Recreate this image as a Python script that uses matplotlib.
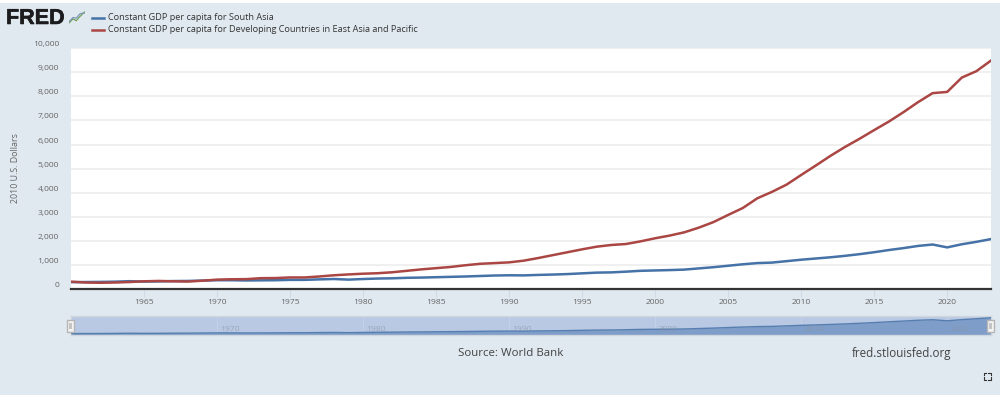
import matplotlib
matplotlib.use("Agg")
import matplotlib.pyplot as plt
import matplotlib.patheffects as pe
from matplotlib.patches import Rectangle
from matplotlib.lines import Line2D
from matplotlib.transforms import ScaledTranslation

years = list(range(1960, 2024))
south_asia = [300, 305, 310, 320, 340, 325, 330, 345, 350, 365,
              380, 380, 370, 375, 380, 395, 395, 415, 430, 405,
              430, 450, 460, 480, 490, 505, 520, 535, 555, 575,
              585, 580, 600, 615, 635, 665, 695, 705, 735, 770,
              785, 800, 820, 870, 920, 980, 1040, 1090, 1110, 1170,
              1230, 1280, 1330, 1390, 1460, 1540, 1630, 1710, 1800, 1860,
              1740, 1870, 1970, 2085]
east_asia = [320, 285, 275, 285, 305, 335, 350, 335, 325, 360,
             405, 420, 425, 465, 470, 495, 495, 535, 585, 620,
             650, 670, 710, 770, 830, 880, 930, 1000, 1060, 1090,
             1120, 1190, 1300, 1420, 1540, 1660, 1770, 1840, 1880, 1990,
             2118, 2230, 2365, 2560, 2790, 3085, 3370, 3775, 4040, 4340,
             4740, 5130, 5530, 5900, 6240, 6600, 6950, 7340, 7755, 8130,
             8180, 8775, 9040, 9480]
y_ticks = list(range(0, 11000, 1000))
x_ticks = list(range(1965, 2025, 5))
nav_ticks = [1970, 1980, 1990, 2000, 2010, 2020]
series_names = ["Constant GDP per capita for South Asia",
                "Constant GDP per capita for Developing Countries in East Asia and Pacific"]

BG = "#e1e9f0"
BLUE = "#4572a7"
RED = "#aa4643"
W, H = 1000, 395
TICK_FS = 6.1
plt.rcParams["font.family"] = ["Open Sans", "DejaVu Sans"]

fig = plt.figure(figsize=(W / 100, H / 100), dpi=100, facecolor=BG)


def px_axes(x0, y0, x1, y1, **kw):
    return fig.add_axes([x0 / W, 1 - y1 / H, (x1 - x0) / W, (y1 - y0) / H], **kw)


def ftext(x, y, s, **kw):
    return fig.text(x / W, 1 - y / H, s, **kw)


# white strip at the very top of the page
fig.add_artist(Rectangle((0, 1 - 2.5 / H), 1, 2.5 / H, transform=fig.transFigure,
                         facecolor="white", edgecolor="none"))

# main chart
ax = px_axes(71, 48, 991, 289.4, facecolor="white")
ax.set_xlim(1960, 2023)
ax.set_ylim(0, 10000)
ax.plot(years, south_asia, color=BLUE, lw=1.8, solid_joinstyle="round", zorder=3, clip_on=True)
ax.plot(years, east_asia, color=RED, lw=1.8, solid_joinstyle="round", zorder=4, clip_on=True)
ax.set_yticks(y_ticks)
ax.set_yticklabels([f"{v:,}" for v in y_ticks])
ax.set_xticks(x_ticks)
ax.grid(axis="y", color="#eeeeee", lw=1.2, zorder=1)
ax.set_axisbelow(True)
for s in ["top", "right", "left"]:
    ax.spines[s].set_visible(False)
ax.spines["bottom"].set_color("#333333")
ax.spines["bottom"].set_linewidth(1.6)
ax.spines["bottom"].set_zorder(6)
ax.tick_params(axis="y", length=0, pad=8.6, labelsize=TICK_FS, labelcolor="#666666")
ax.tick_params(axis="x", length=6, width=0.8, color="#cfdbe8", pad=0.8,
               labelsize=TICK_FS, labelcolor="#666666")
shift = ScaledTranslation(0, 4.5 / 100, fig.dpi_scale_trans)
for lab in ax.get_yticklabels():
    lab.set_transform(lab.get_transform() + shift)
ftext(15.5, 168, "2010 U.S. Dollars", rotation=90, ha="center", va="center",
      fontsize=6.4, color="#666666")

# navigator
nav = px_axes(71, 316, 991, 335, facecolor="#b9c9e3")
nav.set_xlim(1960, 2023)
nav.set_ylim(140, 2280)
nav.fill_between(years, south_asia, 140, color="#7f9dc9", lw=0, zorder=2)
nav.plot(years, south_asia, color=BLUE, lw=1.0, zorder=3, alpha=0.85)
nav.set_xticks(nav_ticks)
nav.set_xticklabels([])
nav.set_yticks([])
nav.tick_params(axis="x", direction="in", length=13.5, width=0.6, color="#c6d2e6")
for s in nav.spines.values():
    s.set_color("#d0d6de")
    s.set_linewidth(1.0)
for yr in nav_ticks:
    nav.annotate(str(yr), (yr, 0), xycoords=nav.get_xaxis_transform(),
                 xytext=(12.7 * 0.72, 5.5 * 0.72), textcoords="offset points", ha="center",
                 va="center", fontsize=TICK_FS, color="#8a93a5", alpha=0.65, zorder=4)
for hx in (70, 990):
    fig.add_artist(Rectangle(((hx - 3.5) / W, 1 - 331.5 / H), 7 / W, 12 / H,
                             transform=fig.transFigure, facecolor="#f2f2f2",
                             edgecolor="#b5b5b5", lw=1.0, zorder=8))
    fig.add_artist(Rectangle(((hx - 1.5) / W, 1 - 328.5 / H), 3 / W, 6 / H,
                             transform=fig.transFigure, facecolor="#c4c4c4",
                             edgecolor="none", zorder=9))

# legend
for yy, col, name in zip((18, 30), (BLUE, RED), series_names):
    fig.add_artist(Line2D([92 / W, 104 / W], [1 - yy / H] * 2, color=col, lw=1.8,
                          transform=fig.transFigure))
    ftext(108, yy, name, ha="left", va="center", fontsize=6.6, color="#333333")

# FRED logo
ftext(6, 18.5, "FRED", ha="left", va="center", fontsize=15.5, fontweight="bold",
      family=["Liberation Sans"], color="#1c1c1e",
      path_effects=[pe.withStroke(linewidth=0.4, foreground="#1c1c1e")])
icon = px_axes(69, 11, 85, 24, facecolor="#e8eef3")
icon.set_xlim(0, 1)
icon.set_ylim(0, 1)
icon.axis("off")
icon.plot([0.02, 0.25, 0.45, 0.7, 1.0], [0.1, 0.4, 0.25, 0.6, 0.95], color="#6fa05a", lw=0.9)
icon.plot([0.02, 0.25, 0.45, 0.7, 1.0], [0.2, 0.5, 0.45, 0.8, 0.85], color="#7d97b8", lw=0.9)

# footer
ftext(458, 353.5, "Source: World Bank", ha="left", va="center", fontsize=8.25, color="#444444")
ftext(852, 353.5, "fred.stlouisfed.org", ha="left", va="center", fontsize=8.35, color="#444444")

# full-screen icon
cx0, cx1, cy0, cy1, a = 983.5, 990.5, 372.5, 379.5, 2.4
for (xs, ys) in [([cx0, cx0, cx0 + a], [cy0 + a, cy0, cy0]),
                 ([cx1 - a, cx1, cx1], [cy0, cy0, cy0 + a]),
                 ([cx0, cx0, cx0 + a], [cy1 - a, cy1, cy1]),
                 ([cx1 - a, cx1, cx1], [cy1, cy1, cy1 - a])]:
    fig.add_artist(Line2D([v / W for v in xs], [1 - v / H for v in ys], color="#333333",
                          lw=0.8, transform=fig.transFigure))

fig.savefig("out.png", dpi=100, facecolor=BG)
